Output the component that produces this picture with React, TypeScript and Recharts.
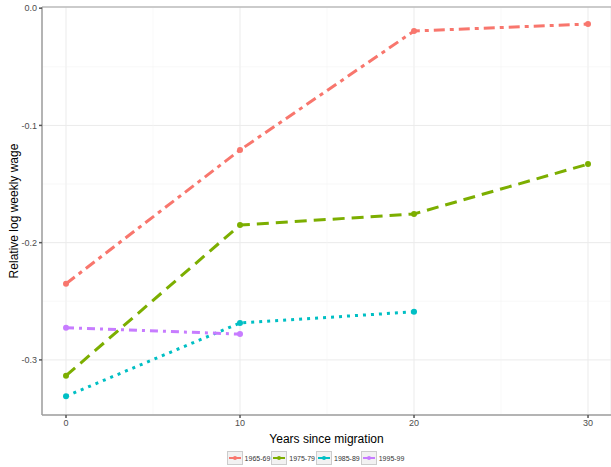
import { LineChart, Line, XAxis, YAxis, CartesianGrid, ReferenceLine } from "recharts";

const years = [0, 10, 20, 30];
const cohorts = ["1965-69", "1975-79", "1985-89", "1995-99"];
const wage6569 = [-0.235, -0.121, -0.0195, -0.0135];
const wage7579 = [-0.3135, -0.185, -0.1755, -0.133];
const wage8589 = [-0.331, -0.2685, -0.259, null];
const wage9599 = [-0.2725, -0.278, null, null];

const xTicks = [0, 10, 20, 30];
const yTicks = [0, -0.1, -0.2, -0.3];
const xMinor = [5, 15, 25];
const yMinor = [-0.05, -0.15, -0.25];

const colors = ["#F8766D", "#7CAE00", "#00BFC4", "#C77CFF"];
const dashes = ["11 5 4 5", "12 7", "3 5", "8 5 3 5"];
const keys = ["c1", "c2", "c3", "c4"];

const data = years.map((y, i) => ({
  x: y,
  c1: wage6569[i],
  c2: wage7579[i],
  c3: wage8589[i],
  c4: wage9599[i],
}));

const font = "Liberation Sans, Arial, sans-serif";

const YTitle = (props: any) => {
  const vb = props.viewBox || { y: 0, height: 0 };
  const cy = vb.y + vb.height / 2;
  return (
    <text x={14} y={cy} transform={`rotate(-90 14 ${cy})`} textAnchor="middle" dominantBaseline="central" fontSize={12} fill="#000" fontFamily={font}>
      Relative log weekly wage
    </text>
  );
};

export default function App() {
  return (
    <div style={{ position: "absolute", left: 0, top: 0, width: 611, height: 467, background: "#fff", fontFamily: font }}>
      <LineChart width={611} height={467} data={data} margin={{ top: 7, right: 0, bottom: 30, left: 0 }}>
        <CartesianGrid stroke="#ebebeb" strokeWidth={1} />
        {xMinor.map((v) => (
          <ReferenceLine key={"x" + v} x={v} stroke="#f4f4f4" strokeWidth={0.6} />
        ))}
        {yMinor.map((v) => (
          <ReferenceLine key={"y" + v} y={v} stroke="#f4f4f4" strokeWidth={0.6} />
        ))}
        <ReferenceLine y={0.001} stroke="#bdbdbd" strokeWidth={1.5} />
        <XAxis
          dataKey="x"
          type="number"
          domain={[-1.38, 31.32]}
          ticks={xTicks}
          allowDataOverflow
          stroke="#9e9e9e"
          strokeWidth={1.5}
          tickSize={3}
          tick={{ fontSize: 9, fill: "#4d4d4d", fontFamily: font }}
          tickLine={{ stroke: "#555" }}
          height={22}
          label={{ value: "Years since migration", position: "bottom", offset: -3, fontSize: 12, fill: "#000", fontFamily: font }}
        />
        <YAxis
          type="number"
          domain={[-0.347, 0.001]}
          ticks={yTicks}
          allowDataOverflow
          width={42}
          stroke="#9e9e9e"
          strokeWidth={1.5}
          tickSize={3}
          tickFormatter={(v: number) => v.toFixed(1)}
          tick={{ fontSize: 9, fill: "#4d4d4d", fontFamily: font }}
          tickLine={{ stroke: "#555" }}
          label={<YTitle />}
        />
        {keys.map((k, i) => (
          <Line
            key={k}
            dataKey={k}
            name={cohorts[i]}
            stroke={colors[i]}
            strokeWidth={3}
            strokeDasharray={dashes[i]}
            dot={{ r: 3, fill: colors[i], stroke: colors[i], strokeWidth: 0, strokeDasharray: "" }}
            connectNulls={false}
            isAnimationActive={false}
          />
        ))}
      </LineChart>
      <div style={{ position: "absolute", top: 451, left: 0, width: 611, display: "flex", justifyContent: "center", paddingLeft: 21, boxSizing: "border-box" }}>
        {cohorts.map((c, i) => (
          <div key={c} style={{ display: "flex", alignItems: "center", marginRight: 1 }}>
            <svg width={16} height={14}>
              <rect x={0.5} y={0.5} width={15} height={13} fill="#f2f2f2" stroke="#cccccc" />
              <line x1={2} x2={14} y1={7} y2={7} stroke={colors[i]} strokeWidth={2} />
              <circle cx={8} cy={7} r={2} fill={colors[i]} />
            </svg>
            <span style={{ fontSize: 7, color: "#333", marginLeft: 2 }}>{c}</span>
          </div>
        ))}
      </div>
    </div>
  );
}
